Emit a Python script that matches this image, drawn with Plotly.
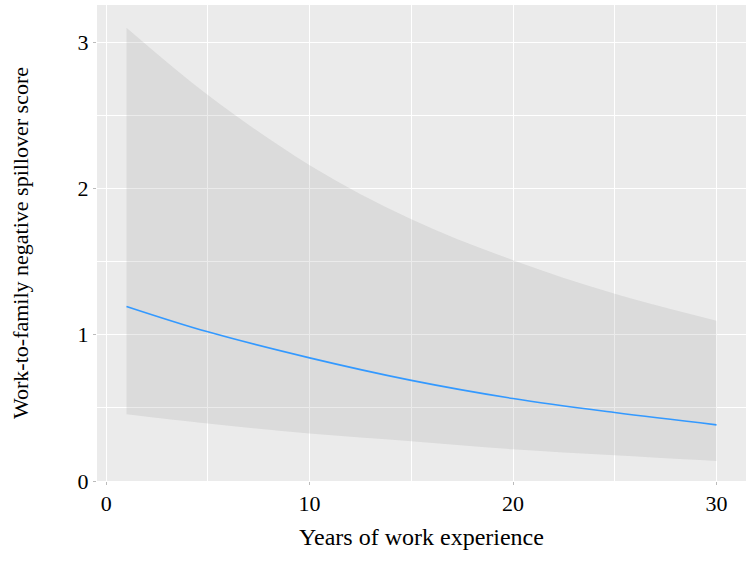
import plotly.graph_objects as go

years = [1, 5, 10, 15, 20, 25, 30]
fit = [1.194, 1.020, 0.842, 0.688, 0.564, 0.468, 0.384]
upper = [3.10, 2.64, 2.16, 1.79, 1.51, 1.28, 1.096]
lower = [0.457, 0.393, 0.324, 0.272, 0.217, 0.176, 0.137]

x_ticks = [0, 10, 20, 30]
y_ticks = [0, 1, 2, 3]

font_family = "Liberation Serif"

fig = go.Figure()
fig.add_trace(go.Scatter(x=years, y=lower, mode="lines", line=dict(width=0, shape="spline"),
                         hoverinfo="skip", showlegend=False))
fig.add_trace(go.Scatter(x=years, y=upper, mode="lines", line=dict(width=0, shape="spline"),
                         fill="tonexty", fillcolor="rgba(153,153,153,0.2)",
                         hoverinfo="skip", showlegend=False))
fig.add_trace(go.Scatter(x=years, y=fit, mode="lines",
                         line=dict(color="#3399FF", width=1.6, shape="spline"),
                         showlegend=False))

fig.update_layout(
    width=750, height=565,
    margin=dict(l=97, r=4, t=5, b=84),
    paper_bgcolor="white",
    plot_bgcolor="#EBEBEB",
    font=dict(family=font_family, size=22, color="black"),
    xaxis=dict(
        range=[-0.45, 31.45], tickvals=x_ticks, zeroline=False,
        showgrid=True, gridcolor="white", gridwidth=1.1,
        minor=dict(dtick=5, tick0=0, showgrid=True, gridcolor="white", gridwidth=0.5),
        ticks="outside", ticklen=3, tickcolor="#BBBBBB", tickwidth=1,
        tickfont=dict(family=font_family, size=22, color="black"),
        title=dict(text="Years of work experience", font=dict(family=font_family, size=24), standoff=12),
        showline=False,
    ),
    yaxis=dict(
        range=[0, 3.255], tickvals=y_ticks, zeroline=False,
        showgrid=True, gridcolor="white", gridwidth=1.1,
        minor=dict(dtick=0.5, tick0=0, showgrid=True, gridcolor="white", gridwidth=0.5),
        ticks="outside", ticklen=3, tickcolor="#BBBBBB", tickwidth=1,
        tickfont=dict(family=font_family, size=22, color="black"),
        title=dict(text="Work-to-family negative spillover score", font=dict(family=font_family, size=22), standoff=42),
        showline=False,
    ),
)

fig.write_html("out.html")
